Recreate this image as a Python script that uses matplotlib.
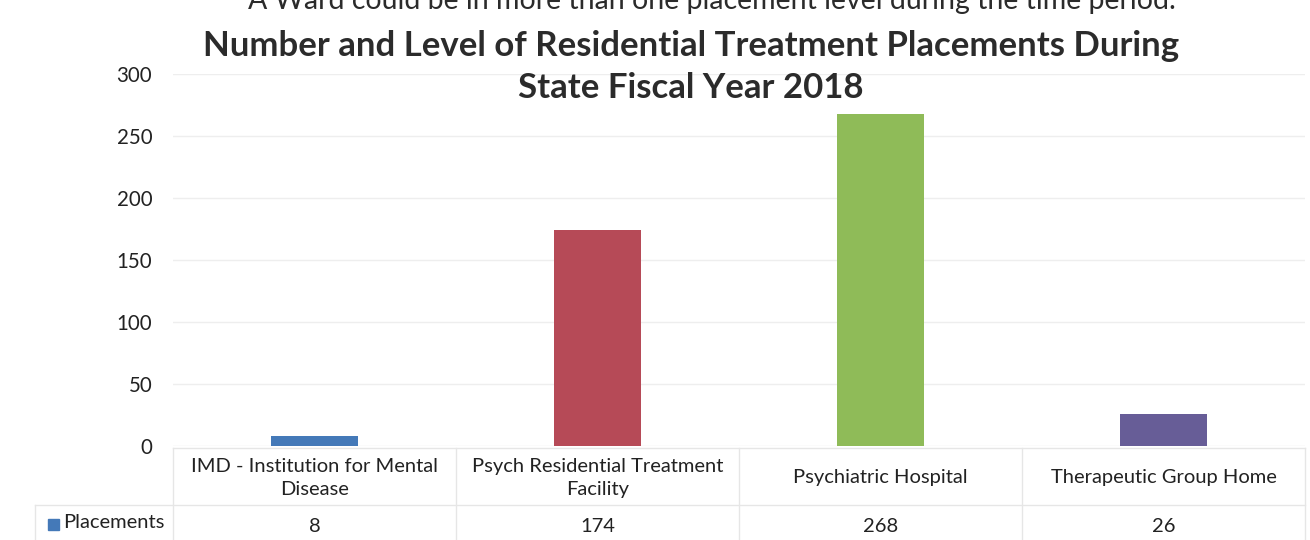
import matplotlib
matplotlib.use("Agg")
import matplotlib.pyplot as plt
from matplotlib.transforms import blended_transform_factory
from matplotlib.lines import Line2D
from matplotlib.patches import Rectangle

categories = ["IMD - Institution for Mental\nDisease",
              "Psych Residential Treatment\nFacility",
              "Psychiatric Hospital",
              "Therapeutic Group Home"]
placements = [8, 174, 268, 26]
bar_colors = ["#4479b8", "#b64a57", "#8fbb58", "#675d97"]
series_name = "Placements"
yticks = [0, 50, 100, 150, 200, 250, 300]
title = "Number and Level of Residential Treatment Placements During\nState Fiscal Year 2018"
top_note = "A Ward could be in more than one placement level during the time period."

plt.rcParams['font.family'] = ['Lato', 'DejaVu Sans']
W, H = 1310, 540
fig = plt.figure(figsize=(W / 100, H / 100), dpi=100)
fig.patch.set_facecolor("white")

x0, x1 = 173, 1305
y_zero, y_top = 446, 74
ax = fig.add_axes([x0 / W, 1 - y_zero / H, (x1 - x0) / W, (y_zero - y_top) / H])
ax.set_facecolor("white")

xs = list(range(len(categories)))
ax.bar(xs, placements, width=0.31, color=bar_colors, zorder=3)
ax.set_xlim(-0.5, len(categories) - 0.5)
ax.set_ylim(0, 300)
ax.set_yticks(yticks)
ax.set_yticklabels([str(v) for v in yticks], fontsize=14.8, color="#222222")
ax.tick_params(axis="y", length=0, pad=15)
ax.set_xticks([])
for s in ax.spines.values():
    s.set_visible(False)
ax.grid(axis="y", color="#eeeeee", linewidth=1, zorder=0)

# data table below the axis
tr = blended_transform_factory(ax.transData, ax.transAxes)
def ay(py):
    return (y_zero - py) / (y_zero - y_top)

line_col = "#e6e6e6"
for i, (cat, val) in enumerate(zip(categories, placements)):
    ax.text(i, ay(478), cat, transform=tr, ha="center", va="center",
            fontsize=14.5, color="#222222", linespacing=1.45, clip_on=False)
    ax.text(i, ay(526), str(val), transform=tr, ha="center", va="center",
            fontsize=14.5, color="#222222", clip_on=False)
for b in [-0.5, 0.5, 1.5, 2.5, 3.5]:
    ax.add_line(Line2D([b, b], [ay(448), ay(545)], transform=tr, color=line_col,
                       linewidth=1, clip_on=False))
fig.add_artist(Line2D([35 / W, x1 / W], [1 - 505 / H, 1 - 505 / H], color=line_col, linewidth=1))
fig.add_artist(Line2D([35 / W, 35 / W], [1 - 505 / H, 0], color=line_col, linewidth=1))
fig.add_artist(Line2D([x0 / W, x1 / W], [1 - 448 / H, 1 - 448 / H], color=line_col, linewidth=1))

# legend key in table
fig.add_artist(Rectangle((48 / W, 1 - 530 / H), 11 / W, 11 / H, color=bar_colors[0]))
fig.text(63 / W, 1 - 523 / H, series_name, ha="left", va="center", fontsize=14.5, color="#222222")

# title
fig.text(691 / W, 1 - 67 / H, title, ha="center", va="center", fontsize=25,
         fontweight="bold", color="#2b2b2b", linespacing=1.36)

# note at top (partly cut off by the page edge, as in the source)
fig.text(712 / W, 1 - 1 / H, top_note, ha="center", va="center", fontsize=20.5, color="#2b2b2b")

fig.savefig("out.png", dpi=100, facecolor="white")
